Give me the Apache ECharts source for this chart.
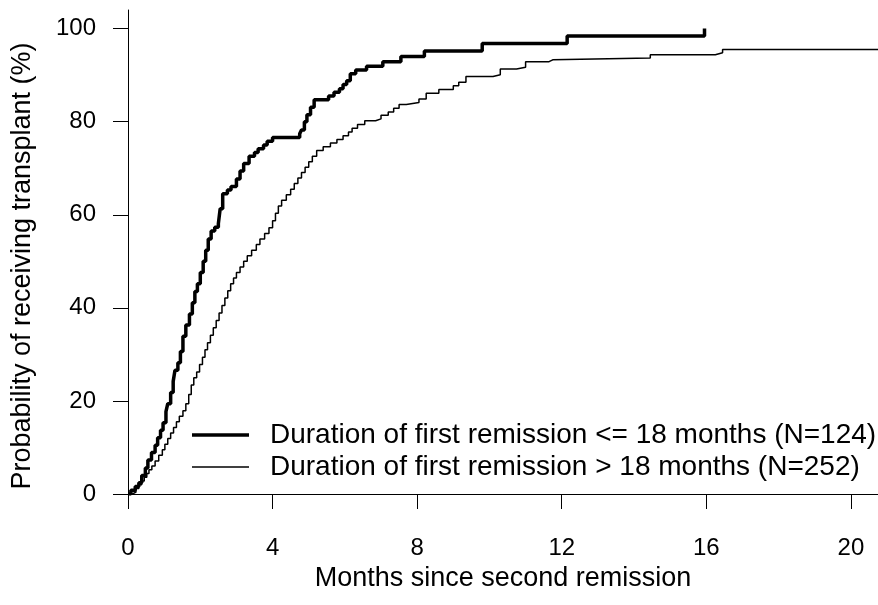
<!DOCTYPE html>
<html>
<head>
<meta charset="utf-8">
<script src="https://cdn.jsdelivr.net/npm/echarts@6/dist/echarts.min.js"></script>
<style>
html,body{margin:0;padding:0;background:#fff;}
#chart{width:878px;height:605px;}
</style>
</head>
<body>
<div id="chart"></div>
<script>
// Series names
var seriesNames = [
  'Duration of first remission <= 18 months (N=124)',
  'Duration of first remission > 18 months (N=252)'
];
// Axis ticks
var xTicks = [0, 4, 8, 12, 16, 20];
var yTicks = [0, 20, 40, 60, 80, 100];

// Short remission group (<= 18 months): time (months), cumulative probability (%)
var shortTimes = [0,0.08,0.2,0.3,0.38,0.48,0.55,0.65,0.75,0.82,0.9,0.97,1.05,1.1,1.18,1.25,1.3,1.38,1.45,1.52,1.6,1.7,1.78,1.85,1.92,2.0,2.08,2.15,2.22,2.3,2.4,2.5,2.55,2.62,2.75,2.85,3.0,3.1,3.2,3.35,3.5,3.6,3.75,3.85,4.0,4.75,4.8,4.88,4.95,5.05,5.15,5.55,5.7,5.85,5.95,6.05,6.15,6.3,6.6,7.05,7.55,8.2,9.8,12.15,15.95];
var shortProb  = [0,0.8,1.6,2.4,4.0,5.6,7.3,8.9,10.5,12.1,13.7,15.3,17.7,19.4,21.8,24.2,26.6,28.2,30.6,33.9,36.3,38.7,41.1,43.5,45.2,47.6,50.0,52.4,54.8,56.5,57.3,58.1,61.3,64.5,65.3,66.1,67.7,69.4,71.0,72.6,73.4,74.2,75.0,75.8,76.6,77.4,78.2,80.0,81.5,83.1,84.7,85.5,86.3,87.1,88.0,88.8,90.3,91.1,91.9,92.9,94.0,95.2,96.8,98.4,100];

// Long remission group (> 18 months)
var longTimes = [0,0.12,0.22,0.3,0.38,0.45,0.52,0.58,0.66,0.75,0.85,0.95,1.02,1.1,1.18,1.26,1.34,1.42,1.52,1.6,1.68,1.75,1.82,1.9,1.98,2.06,2.13,2.2,2.28,2.36,2.44,2.52,2.6,2.68,2.76,2.84,2.92,3.0,3.1,3.2,3.3,3.42,3.55,3.65,3.78,3.9,4.0,4.08,4.16,4.25,4.38,4.5,4.6,4.7,4.8,4.9,5.0,5.1,5.22,5.4,5.6,5.78,5.95,6.1,6.2,6.35,6.55,6.85,7.0,7.2,7.35,7.5,7.7,8.05,8.25,8.6,9.0,9.15,9.35,10.1,10.3,10.75,11.0,11.65,11.75,14.45,16.25,16.45,20.75];
var longProb  = [0,0.4,1.2,2.0,2.8,3.6,4.4,5.2,6.0,7.1,8.3,9.5,10.7,11.9,13.1,14.3,15.5,16.7,17.9,19.4,21.4,23.4,25.0,26.2,27.8,29.4,31.0,32.5,34.1,35.7,37.3,38.9,40.5,42.1,43.7,45.2,46.4,47.6,48.8,50.0,51.2,52.4,53.6,54.8,56.0,57.2,58.7,60.3,61.9,63.1,64.3,65.5,66.7,67.9,69.1,70.2,71.4,72.6,73.8,74.6,75.4,76.2,77.0,77.8,78.6,79.4,80.2,80.6,81.4,82.1,82.9,83.7,84.1,84.9,86.1,86.9,87.7,88.5,89.7,90.1,91.3,91.7,92.9,93.3,93.7,94.4,94.8,95.5,95.5];

function pairs(t, p) {
  var out = [];
  for (var i = 0; i < t.length; i++) out.push([t[i], p[i]]);
  return out;
}

var FONT = 'Liberation Sans, Arial, sans-serif';
// legend icons: horizontal bars inside a 57x24 box (thick and thin line samples)
var thickIcon = 'path://M0,0 M57,24 M0,10.25 L57,10.25 L57,13.75 L0,13.75 Z';
var thinIcon = 'path://M0,0 M57,24 M0,11.25 L57,11.25 L57,12.75 L0,12.75 Z';

var chart = echarts.init(document.getElementById('chart'), null, {renderer: 'canvas'});
chart.setOption({
  animation: false,
  backgroundColor: '#ffffff',
  textStyle: {fontFamily: FONT, color: '#000'},
  grid: {left: 128, right: 0, top: 10, bottom: 111, containLabel: false, outerBoundsMode: 'none'},
  legend: {
    orient: 'vertical',
    left: 187,
    top: 416,
    itemWidth: 57,
    itemHeight: 24,
    itemGap: 4,
    itemStyle: {color: '#000', borderWidth: 0},
    lineStyle: {width: 0},
    textStyle: {fontFamily: FONT, fontSize: 28, color: '#000', padding: [0, 0, 0, 16]},
    data: [
      {name: seriesNames[0], icon: thickIcon},
      {name: seriesNames[1], icon: thinIcon}
    ]
  },
  xAxis: {
    type: 'value',
    min: 0,
    max: 20.75,
    name: 'Months since second remission',
    nameLocation: 'middle',
    nameGap: 70,
    nameTextStyle: {fontFamily: FONT, fontSize: 27, color: '#000'},
    axisLine: {show: true, onZero: false, lineStyle: {color: '#000', width: 1}},
    axisTick: {show: true, length: 15, customValues: xTicks, lineStyle: {color: '#000'}},
    axisLabel: {customValues: xTicks, fontFamily: FONT, fontSize: 24, color: '#000', margin: 42},
    splitLine: {show: false}
  },
  yAxis: {
    type: 'value',
    min: 0,
    max: 104,
    name: 'Probability of receiving transplant (%)',
    nameLocation: 'middle',
    nameGap: 92,
    nameRotate: 90,
    nameTextStyle: {fontFamily: FONT, fontSize: 27, color: '#000', padding: [0, 28, 0, 0]},
    axisLine: {show: true, onZero: false, lineStyle: {color: '#000', width: 1}},
    axisTick: {show: true, length: 15, customValues: yTicks, lineStyle: {color: '#000'}},
    axisLabel: {customValues: yTicks, fontFamily: FONT, fontSize: 24, color: '#000', margin: 32},
    splitLine: {show: false}
  },
  series: [
    {
      name: seriesNames[0],
      type: 'line',
      step: 'end',
      symbol: 'none',
      clip: true,
      lineStyle: {color: '#000', width: 3.5},
      itemStyle: {color: '#000'},
      data: pairs(shortTimes, shortProb)
    },
    {
      name: seriesNames[1],
      type: 'line',
      step: 'end',
      symbol: 'none',
      clip: true,
      lineStyle: {color: '#000', width: 1.5},
      itemStyle: {color: '#000'},
      data: pairs(longTimes, longProb)
    }
  ]
});
</script>
</body>
</html>
